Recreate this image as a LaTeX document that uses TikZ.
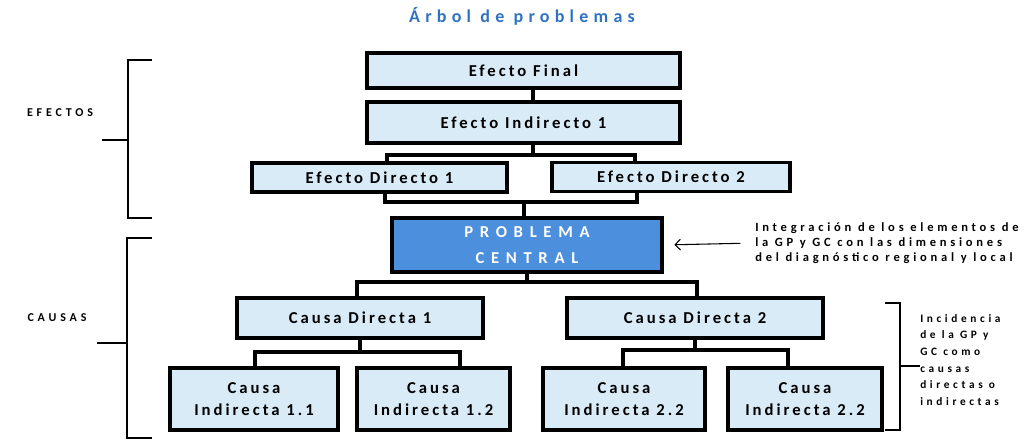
\documentclass[tikz,border=0pt]{standalone}
\usepackage{fontspec}
\setmainfont{Carlito}
\newfontfamily\boxfont[LetterSpace=18]{Carlito}
\newfontfamily\widefont[LetterSpace=32]{Carlito}
\newfontfamily\notefont[LetterSpace=30]{Carlito}
\newfontfamily\titlefont[LetterSpace=29]{Carlito}
\newfontfamily\pcfont[LetterSpace=40]{Carlito}
\usetikzlibrary{positioning}
\usetikzlibrary{calc}
\usetikzlibrary{arrows.meta}
\definecolor{boxblue}{HTML}{D8EBF7}
\definecolor{problue}{HTML}{4C8FDC}
\definecolor{titleblue}{HTML}{2F72C4}
\tikzstyle{box} = [draw, line width=2.5pt, fill=boxblue, inner sep=0pt, align=center, font=\boxfont\bfseries\fontsize{12.5}{16.5}\selectfont]
\tikzstyle{central} = [box, fill=problue, text=white, font=\pcfont\bfseries\fontsize{12.5}{19}\selectfont]
\tikzstyle{conn} = [line width=3pt]
\tikzstyle{brace} = [line width=1.6pt]
\tikzstyle{note} = [inner sep=0pt, align=left, font=\notefont\bfseries\fontsize{9.4}{11.25}\selectfont]
\tikzstyle{side} = [inner sep=0pt, font=\widefont\bfseries\fontsize{9}{11}\selectfont]

\begin{document}
\begin{tikzpicture}[x=0.75pt,y=-0.75pt]
    \useasboundingbox (0,0) rectangle (1026,441);
    \node [font=\titlefont\bfseries\fontsize{13.5}{15}\selectfont, text=titleblue] (titulo) at (522,16) {Árbol de problemas};

    % efectos
    \node [box, minimum width=234.75pt, minimum height=26.25pt] (ef) at (523.5,70.5) {Efecto Final};
    \node [box, minimum width=234.75pt, minimum height=30.75pt] (ei) at (523.5,122.5) {Efecto Indirecto 1};
    \node [box, minimum width=191.25pt, minimum height=21.75pt] (ed1) at (379.5,177.5) {Efecto Directo 1};
    \node [box, minimum width=178.5pt, minimum height=21.75pt] (ed2) at (671,177) {Efecto Directo 2};

    % problema
    \node [central, minimum width=202.5pt, minimum height=40.5pt] (pc) at (527,245) {PROBLEMA\\CENTRAL};

    % causas
    \node [box, minimum width=184.5pt, minimum height=30pt] (cd1) at (360,318) {Causa Directa 1};
    \node [box, minimum width=192pt, minimum height=30pt] (cd2) at (695,318) {Causa Directa 2};
    \node [box, minimum width=126pt, minimum height=46.5pt] (ci11) at (254,399) {Causa\\Indirecta 1.1};
    \node [box, minimum width=114.75pt, minimum height=46.5pt] (ci12) at (433.5,399) {Causa\\Indirecta 1.2};
    \node [box, minimum width=121.5pt, minimum height=46.5pt] (ci21) at (624,399) {Causa\\Indirecta 2.2};
    \node [box, minimum width=115.5pt, minimum height=46.5pt] (ci22) at (805,399) {Causa\\Indirecta 2.2};

    % conectores
    \coordinate (tx) at (533,0);
    \coordinate (e1) at (387,155);
    \coordinate (e2) at (635,155);
    \coordinate (f1) at (385,202);
    \coordinate (f2) at (637,202);
    \coordinate (fx) at (524,202);
    \coordinate (g1) at (357,282);
    \coordinate (g2) at (697,282);
    \coordinate (h1) at (255,352);
    \coordinate (h2) at (460,352);
    \coordinate (k1) at (623,350);
    \coordinate (k2) at (788,350);

    \draw [conn] (ef.south -| tx) -- (ei.north -| tx);
    \draw [conn] (ei.south -| tx) -- (tx |- e1);
    \draw [conn] (ed1.north -| e1) -- (e1) -- (e2) -- (ed2.north -| e2);
    \draw [conn] (ed1.south -| f1) -- (f1) -- (f2) -- (ed2.south -| f2);
    \draw [conn] (fx) -- (pc.north -| fx);
    \draw [conn] (pc.south) -- (pc.south |- g1);
    \draw [conn] (cd1.north -| g1) -- (g1) -- (g2) -- (cd2.north -| g2);
    \draw [conn] (cd1.south) -- (cd1.south |- h1);
    \draw [conn] (ci11.north -| h1) -- (h1) -- (h2) -- (ci12.north -| h2);
    \draw [conn] (cd2.south) -- (cd2.south |- k1);
    \draw [conn] (ci21.north -| k1) -- (k1) -- (k2) -- (ci22.north -| k2);

    % notas
    \node [note, anchor=west] (integ) at (755,243) {Integración de los elementos de\\la GP y GC con las dimensiones\\del diagnóstico regional y local};
    \draw [-{Straight Barb[length=4pt]}, line width=0.8pt, shorten <=11pt, shorten >=8pt] (integ.west) -- (pc.east);

    \node [note, anchor=west, font=\widefont\bfseries\fontsize{8.5}{12.5}\selectfont] (incid) at (920,360) {Incidencia\\de la GP y\\GC como\\causas\\directas o\\indirectas};
    \draw [brace] (885,303) -- (900,303) -- (900,430) -- (885,430);
    \draw [brace] (900,366) -- (incid.west |- 0,366);

    % llaves
    \node [side] (efectos) at (60,113) {EFECTOS};
    \node [side] (causas) at (57,318) {CAUSAS};
    \draw [brace] (152,60) -- (128,60) -- (128,218) -- (152,218);
    \draw [brace] (128,140) -- (102,140);
    \draw [brace] (152,238) -- (127,238) -- (127,438) -- (152,438);
    \draw [brace] (127,343) -- (97,343);
\end{tikzpicture}
\end{document}
